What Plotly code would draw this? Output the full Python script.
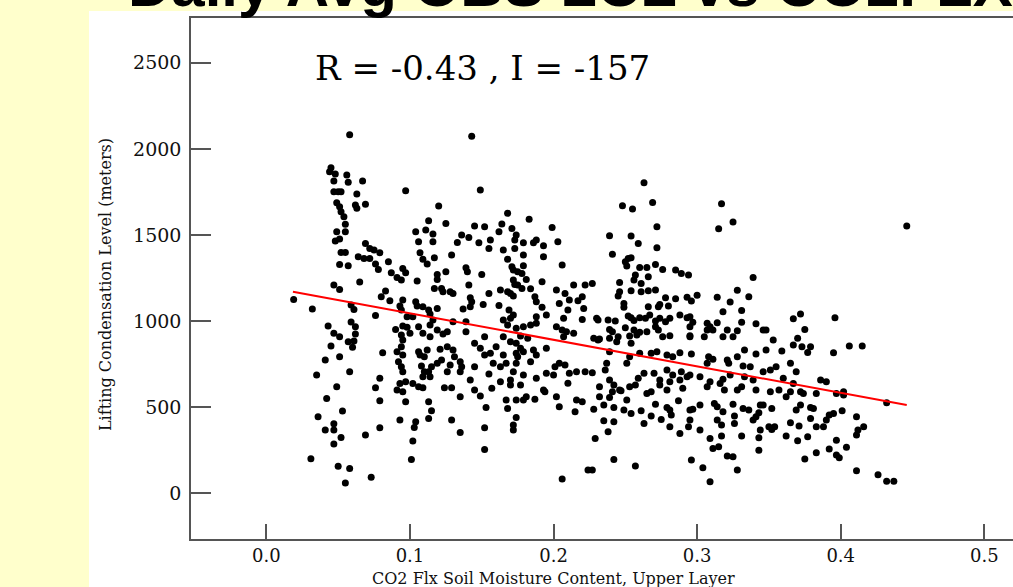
import plotly.graph_objects as go

# ---------------- data ----------------
soil_moisture = [
    0.058, 0.143, 0.045, 0.044, 0.048, 0.056, 0.047, 0.057, 0.067, 0.263,
    # upper-left block
    0.047, 0.050, 0.052, 0.063, 0.097, 0.149, 0.049, 0.051, 0.062, 0.063,
    0.069, 0.120, 0.052, 0.054, 0.055, 0.168, 0.183, 0.113, 0.125, 0.145,
    0.152, 0.164, 0.171, 0.199, 0.049, 0.055, 0.104, 0.111, 0.116, 0.136,
    0.141, 0.162, 0.174, 0.048, 0.051, 0.069, 0.072, 0.106, 0.116, 0.133,
    0.148, 0.156, 0.173, 0.179, 0.186, 0.188, 0.193, 0.203, 0.075, 0.079,
    0.052, 0.055, 0.107, 0.129, 0.155, 0.165, 0.173, 0.179, 0.193, 0.064,
    0.068, 0.072, 0.109, 0.117, 0.085, 0.051, 0.057, 0.076, 0.078, 0.112,
    0.168, 0.171, 0.179, 0.206, 0.087, 0.095, 0.097, 0.091, 0.094, 0.119,
    0.125, 0.139, 0.140, 0.150, 0.172, 0.175, 0.178, 0.181, 0.192, 0.065,
    0.105, 0.119, 0.141, 0.172, 0.173, 0.175, 0.047, 0.051, 0.117, 0.122,
    0.123, 0.128, 0.130, 0.163, 0.168, 0.172, 0.178, 0.184, 0.202, 0.208,
    0.214, 0.222, 0.083, 0.080, 0.086, 0.095, 0.104, 0.105, 0.142, 0.143,
    0.155, 0.170, 0.187, 0.188, 0.204, 0.211, 0.220, 0.217, 0.019, 0.032,
    0.059, 0.061, 0.076, 0.093, 0.094, 0.109, 0.113, 0.119, 0.137, 0.142,
    0.151, 0.162, 0.169, 0.172, 0.192, 0.210, 0.221, 0.098, 0.102, 0.114,
    0.116, 0.130, 0.139, 0.165, 0.170, 0.195, 0.188, 0.207, 0.220, 0.043,
    0.059, 0.062, 0.095, 0.098, 0.090, 0.106, 0.114, 0.119, 0.126, 0.139,
    0.152, 0.168, 0.174, 0.179, 0.184, 0.188, 0.202, 0.206, 0.209, 0.214,
    0.047, 0.051, 0.062, 0.094, 0.100, 0.109, 0.114, 0.123, 0.165, 0.177,
    0.182, 0.207,
    # upper-right block
    0.248, 0.255, 0.269, 0.317, 0.272, 0.315, 0.325, 0.446, 0.239, 0.254,
    0.259, 0.272, 0.241, 0.250, 0.252, 0.254, 0.251, 0.260, 0.265, 0.271,
    0.276, 0.285, 0.289, 0.294, 0.227, 0.246, 0.257, 0.256, 0.261, 0.266,
    0.339, 0.245, 0.246, 0.254, 0.261, 0.266, 0.271, 0.278, 0.285, 0.293,
    0.300, 0.296, 0.314, 0.323, 0.328, 0.336, 0.249, 0.249, 0.266, 0.273,
    0.274, 0.280, 0.318, 0.331, 0.230, 0.231, 0.238, 0.243, 0.252, 0.254,
    0.256, 0.260, 0.264, 0.267, 0.271, 0.274, 0.278, 0.281, 0.288, 0.293,
    0.295, 0.297, 0.307, 0.309, 0.314, 0.331, 0.341, 0.367, 0.372, 0.396,
    0.239, 0.241, 0.250, 0.256, 0.260, 0.265, 0.271, 0.273, 0.295, 0.295,
    0.307, 0.311, 0.321, 0.328, 0.346, 0.348, 0.375, 0.228, 0.232, 0.239,
    0.245, 0.253, 0.258, 0.276, 0.281, 0.295, 0.305, 0.318, 0.325, 0.353,
    0.370,
    # lower-left block
    0.057, 0.061, 0.045, 0.060, 0.081, 0.051, 0.041, 0.035, 0.058, 0.049,
    0.079, 0.076, 0.042, 0.079, 0.053, 0.036, 0.047, 0.041, 0.047, 0.052,
    0.047, 0.069, 0.079, 0.031, 0.050, 0.058, 0.073, 0.055,
    0.095, 0.094, 0.091, 0.095, 0.092, 0.094, 0.095, 0.093, 0.097, 0.091,
    0.095, 0.102, 0.106, 0.109, 0.097, 0.106, 0.107, 0.110, 0.112, 0.108,
    0.110, 0.114, 0.113, 0.109, 0.115, 0.119, 0.122, 0.121, 0.126, 0.130,
    0.131, 0.126, 0.128, 0.135, 0.136, 0.135, 0.142, 0.129, 0.124, 0.135,
    0.113, 0.115, 0.113, 0.104, 0.103, 0.093, 0.129, 0.135, 0.102, 0.101,
    0.145, 0.149, 0.152, 0.156, 0.160, 0.165, 0.170, 0.174, 0.177, 0.174,
    0.175, 0.179, 0.186, 0.188, 0.195, 0.184, 0.174, 0.167, 0.163, 0.158,
    0.145, 0.155, 0.172, 0.179, 0.188, 0.195, 0.200, 0.201, 0.204, 0.208,
    0.211, 0.216, 0.222, 0.170, 0.163, 0.157, 0.145, 0.149, 0.170, 0.177,
    0.181, 0.187, 0.193, 0.202, 0.204, 0.210, 0.216, 0.220, 0.215, 0.167,
    0.174, 0.179, 0.168, 0.174, 0.153, 0.152, 0.172, 0.172, 0.152, 0.206,
    0.224, 0.194,
    # lower-right block
    0.229, 0.227, 0.242, 0.257, 0.235, 0.242, 0.238, 0.228, 0.235, 0.242,
    0.249, 0.254, 0.261, 0.263, 0.268, 0.271, 0.275, 0.279, 0.281, 0.282,
    0.281, 0.287, 0.288, 0.295, 0.297, 0.295, 0.294, 0.302, 0.302, 0.309,
    0.312, 0.314, 0.314, 0.317, 0.318, 0.317, 0.311, 0.315, 0.321, 0.325,
    0.328, 0.304, 0.296, 0.309, 0.325, 0.326, 0.326, 0.331, 0.332, 0.336,
    0.339, 0.341, 0.343, 0.344, 0.346, 0.352, 0.344, 0.350, 0.352, 0.354,
    0.343, 0.343, 0.362, 0.365, 0.369, 0.372, 0.371, 0.379, 0.381, 0.379,
    0.377, 0.370, 0.375, 0.383, 0.383, 0.388, 0.390, 0.392, 0.395, 0.401,
    0.397, 0.392, 0.397, 0.399, 0.404, 0.411, 0.412, 0.416, 0.411, 0.411,
    0.426, 0.432, 0.437,
    0.231, 0.244, 0.254, 0.260, 0.268, 0.272, 0.279, 0.283, 0.288, 0.296,
    0.308, 0.311, 0.307, 0.321, 0.322, 0.328, 0.333, 0.341, 0.348, 0.359,
    0.367, 0.373, 0.379, 0.377, 0.395, 0.406, 0.415, 0.365, 0.369, 0.355,
    0.351, 0.346, 0.337, 0.332, 0.323, 0.318, 0.309, 0.307, 0.302, 0.295,
    0.288, 0.290, 0.283, 0.279, 0.274, 0.274, 0.270, 0.263, 0.259, 0.257,
    0.253, 0.246, 0.239, 0.242, 0.241, 0.232, 0.227, 0.237, 0.236, 0.251,
    0.253, 0.239, 0.232, 0.239, 0.247, 0.251, 0.268, 0.265, 0.279, 0.281,
    0.289, 0.293, 0.316, 0.319, 0.328, 0.331, 0.333, 0.339, 0.341, 0.351,
    0.357, 0.362, 0.365, 0.372, 0.374, 0.383, 0.386, 0.390, 0.397, 0.402,
    0.402, 0.432, 0.367, 0.360,
]

lcl_meters = [
    2082, 2073, 1890, 1867, 1854, 1848, 1813, 1807, 1813, 1803,
    # upper-left block
    1751, 1751, 1751, 1738, 1757, 1761, 1687, 1664, 1674, 1655,
    1678, 1668, 1635, 1606, 1562, 1626, 1591, 1583, 1567, 1552,
    1548, 1564, 1538, 1544, 1519, 1519, 1519, 1529, 1506, 1500,
    1486, 1519, 1500, 1465, 1477, 1451, 1422, 1461, 1461, 1457,
    1455, 1471, 1471, 1455, 1455, 1471, 1438, 1461, 1413, 1397,
    1399, 1399, 1397, 1384, 1422, 1413, 1422, 1384, 1374, 1374,
    1364, 1364, 1359, 1368, 1345, 1329, 1322, 1331, 1300, 1331,
    1359, 1316, 1322, 1326, 1281, 1306, 1281, 1254, 1239, 1271,
    1287, 1310, 1287, 1271, 1297, 1287, 1277, 1242, 1229, 1227,
    1233, 1242, 1210, 1239, 1213, 1210, 1210, 1184, 1190, 1190,
    1171, 1171, 1161, 1181, 1171, 1146, 1190, 1188, 1181, 1161,
    1210, 1210, 1175, 1142, 1119, 1122, 1113, 1088, 1136, 1113,
    1161, 1161, 1142, 1113, 1103, 1122, 1142, 1119, 1126, 1070,
    1093, 1068, 1032, 1088, 1064, 1084, 1064, 1074, 1070, 1084,
    1097, 1091, 1064, 1035, 1080, 1064, 1074, 1026, 1026, 1041,
    1006, 997, 997, 1006, 1016, 1035, 1026, 1016, 1010, 972,
    995, 968, 972, 964, 952, 968, 977, 948, 939, 939,
    910, 977, 958, 968, 977, 987, 968, 948, 939, 929,
    929, 910, 925, 919, 929, 929, 910, 925, 910, 913,
    900, 910,
    # upper-right block
    1670, 1651, 1689, 1682, 1548, 1537, 1575, 1552, 1496, 1494,
    1451, 1426, 1388, 1345, 1364, 1368, 1320, 1312, 1312, 1329,
    1300, 1297, 1277, 1268, 1219, 1225, 1268, 1239, 1219, 1258,
    1254, 1146, 1171, 1177, 1171, 1177, 1181, 1136, 1130, 1138,
    1150, 1117, 1138, 1111, 1179, 1142, 1103, 1080, 1084, 1084,
    1097, 1088, 1055, 1062, 1016, 1006, 1006, 1001, 1030, 1020,
    1003, 1020, 1016, 1035, 1001, 1016, 997, 1016, 1035, 1020,
    1026, 993, 987, 968, 991, 993, 985, 1014, 1041, 1020,
    952, 939, 962, 948, 935, 939, 968, 948, 968, 915,
    948, 948, 948, 944, 948, 948, 952, 900, 896, 900,
    910, 913, 919, 910, 915, 910, 910, 910, 910, 890,
    900,
    # lower-left block
    880, 884, 855, 848, 817, 793, 774, 687, 706, 619,
    668, 613, 551, 538, 478, 445, 404, 368, 368, 325,
    286, 339, 381, 201, 157, 145, 93, 60,
    890, 851, 822, 803, 764, 735, 706, 638, 648, 600,
    590, 638, 619, 613, 532, 822, 803, 793, 832, 739,
    706, 677, 706, 677, 735, 755, 774, 836, 851, 832,
    793, 706, 745, 764, 735, 706, 658, 613, 613, 561,
    532, 480, 435, 416, 383, 426, 426, 354, 304, 197,
    871, 842, 803, 813, 851, 803, 880, 871, 842, 813,
    793, 822, 832, 803, 842, 764, 755, 755, 735, 755,
    735, 693, 706, 687, 668, 697, 687, 735, 755, 745,
    697, 706, 706, 658, 648, 610, 600, 565, 629, 629,
    561, 546, 600, 561, 503, 639, 542, 532, 474, 542,
    542, 542, 493, 441, 499, 381, 397, 368, 255, 83,
    135, 590,
    # lower-right block
    319, 135, 197, 159, 422, 416, 358, 488, 513, 499,
    484, 464, 480, 406, 449, 518, 429, 499, 484, 455,
    387, 538, 348, 484, 488, 426, 387, 513, 368, 319,
    522, 503, 426, 397, 474, 333, 261, 271, 217, 213,
    135, 149, 193, 68, 518, 449, 406, 333, 493, 484,
    426, 445, 468, 513, 513, 493, 368, 387, 371, 387,
    323, 251, 333, 410, 484, 513, 391, 499, 493, 435,
    329, 306, 199, 236, 387, 387, 426, 455, 464, 480,
    309, 257, 222, 207, 267, 445, 368, 387, 339, 131,
    108, 71, 71,
    890, 880, 871, 813, 813, 822, 803, 793, 816, 809,
    793, 778, 755, 774, 755, 793, 832, 809, 832, 826,
    861, 851, 851, 818, 816, 855, 855, 755, 706, 735,
    716, 706, 735, 739, 687, 662, 648, 619, 677, 687,
    658, 610, 687, 716, 658, 629, 697, 697, 668, 629,
    619, 600, 658, 629, 590, 619, 700, 755, 716, 755,
    793, 822, 561, 557, 596, 542, 590, 580, 600, 648,
    706, 677, 638, 600, 600, 619, 677, 658, 600, 590,
    600, 561, 590, 590, 580, 580, 658, 648, 580, 571,
    590, 526, 638, 668,
]

fit_x = [0.0185, 0.4460]
fit_y = [1171, 513]

x_ticks = [0.0, 0.1, 0.2, 0.3, 0.4, 0.5]
x_ticktext = ["0.0", "0.1", "0.2", "0.3", "0.4", "0.5"]
y_ticks = [0, 500, 1000, 1500, 2000, 2500]
y_ticktext = ["0", "500", "1000", "1500", "2000", "2500"]

title_text = "Daily Avg OBS LCL vs CO2FLX"
stat_text = "R = -0.43 , I = -157"
x_title = "CO2 Flx Soil Moisture Content, Upper Layer"
y_title = "Lifting Condensation Level (meters)"

# ---------------- figure ----------------
W, H = 1013, 587
L, R, T, B = 191, 0, 18, 48
pw, ph = W - L - R, H - T - B


def px_to_paper_x(px):
    return (px - L) / pw


def px_to_paper_y(py):
    return (H - B - py) / ph


SERIF = "DejaVu Serif, Liberation Serif, serif"
AXIS_COL = "#555555"

fig = go.Figure()

fig.add_trace(go.Scatter(
    x=soil_moisture, y=lcl_meters, mode="markers",
    marker=dict(color="black", size=7, line=dict(width=0)),
    hoverinfo="skip", showlegend=False,
))

fig.add_trace(go.Scatter(
    x=fit_x, y=fit_y, mode="lines",
    line=dict(color="#ff0000", width=2),
    hoverinfo="skip", showlegend=False,
))

fig.update_layout(
    width=W, height=H,
    margin=dict(l=L, r=R, t=T, b=B, pad=0),
    paper_bgcolor="#ffffcc",
    plot_bgcolor="white",
    showlegend=False,
    xaxis=dict(
        range=[-0.0525, 0.52], tickvals=x_ticks, ticktext=x_ticktext,
        showgrid=False, zeroline=False,
        showline=True, linecolor=AXIS_COL, linewidth=1.5, mirror=True,
        ticks="inside", ticklen=15, tickwidth=1.5, tickcolor=AXIS_COL,
        tickfont=dict(family=SERIF, size=18, color="#111"),
        ticklabelstandoff=0,
        automargin=False,
    ),
    yaxis=dict(
        range=[-265, 2760], tickvals=y_ticks, ticktext=y_ticktext,
        showgrid=False, zeroline=False,
        showline=True, linecolor=AXIS_COL, linewidth=1.5,
        ticks="inside", ticklen=20, tickwidth=1.5, tickcolor=AXIS_COL,
        tickfont=dict(family=SERIF, size=19, color="#111"),
        ticklabelstandoff=4,
        automargin=False,
    ),
    shapes=[
        dict(type="rect", xref="paper", yref="paper", layer="below",
             x0=px_to_paper_x(89), x1=1.0, y0=px_to_paper_y(587), y1=px_to_paper_y(11),
             fillcolor="white", line=dict(width=0)),
    ],
    annotations=[
        dict(text=f"<b>{title_text}</b>", xref="paper", yref="paper",
             x=px_to_paper_x(126), y=px_to_paper_y(21), xanchor="left", yanchor="bottom",
             showarrow=False, align="left",
             font=dict(family="Liberation Sans, Arial, sans-serif", size=60, color="black")),
        dict(text=stat_text, xref="x", yref="y", x=0.0325, y=2469,
             xanchor="left", yanchor="middle", showarrow=False,
             font=dict(family=SERIF, size=34, color="black")),
        dict(text=x_title, xref="x", yref="paper", x=0.2, y=px_to_paper_y(578),
             xanchor="center", yanchor="middle", showarrow=False,
             font=dict(family=SERIF, size=16, color="#111")),
        dict(text=y_title, xref="paper", yref="paper", x=px_to_paper_x(105),
             y=px_to_paper_y(285), xanchor="center", yanchor="middle",
             textangle=-90, showarrow=False,
             font=dict(family=SERIF, size=16, color="#111")),
    ],
)

fig.write_html("out.html")
